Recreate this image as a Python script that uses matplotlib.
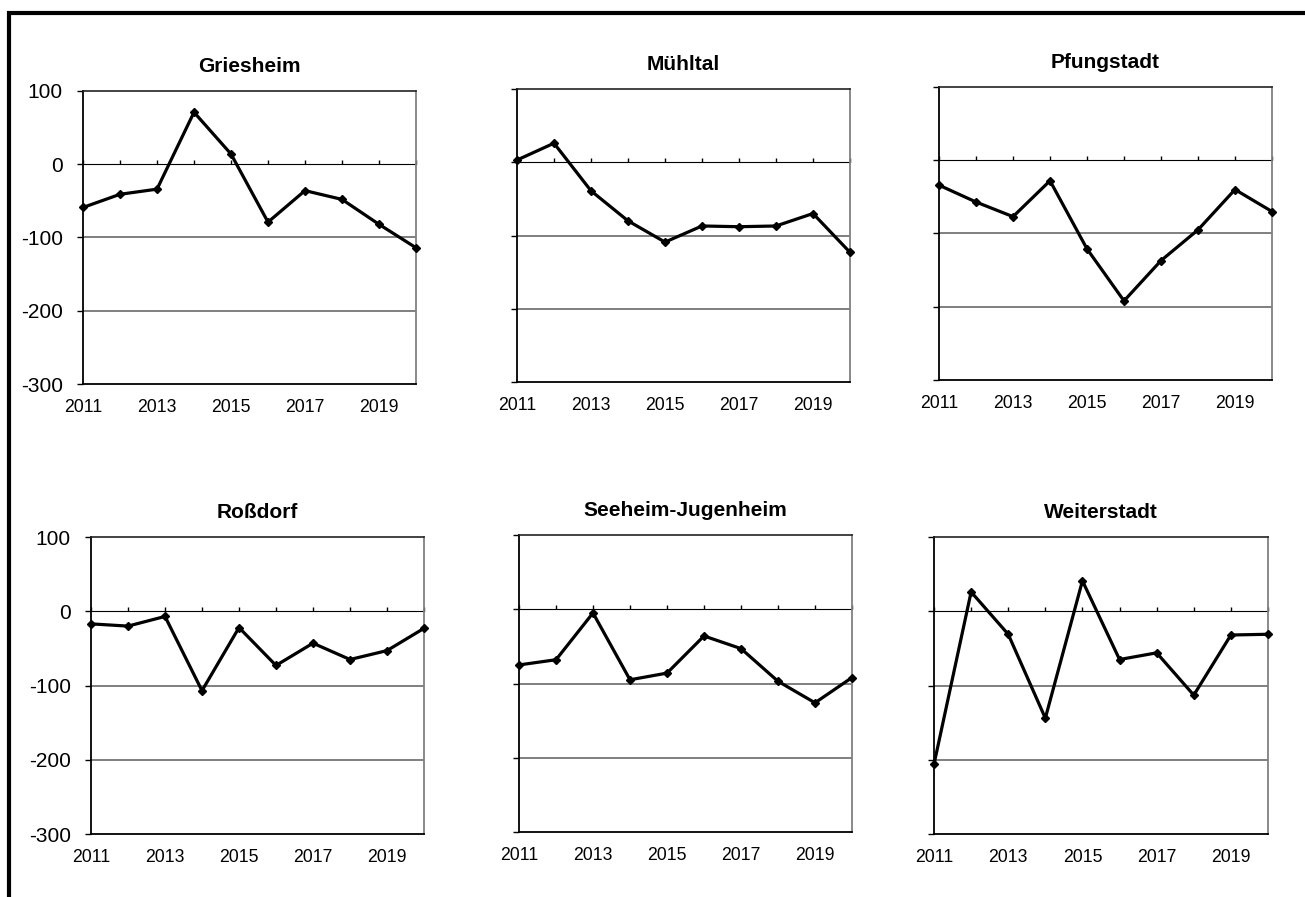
import matplotlib
matplotlib.use("Agg")
import matplotlib.pyplot as plt
from matplotlib.patches import Rectangle

plt.rcParams['font.family'] = ['Liberation Sans', 'DejaVu Sans']

years = list(range(2011, 2021))
towns = ["Griesheim", "Mühltal", "Pfungstadt", "Roßdorf", "Seeheim-Jugenheim", "Weiterstadt"]
griesheim = [-59, -41, -34, 71, 14, -79, -36, -48, -82, -114]
muehltal = [3, 26, -39, -80, -109, -87, -88, -87, -70, -123]
pfungstadt = [-34, -57, -77, -28, -121, -192, -137, -95, -40, -70]
rossdorf = [-17, -20, -7, -107, -22, -73, -43, -65, -53, -23]
seeheim = [-75, -68, -5, -95, -86, -36, -53, -97, -126, -92]
weiterstadt = [-206, 26, -31, -144, 41, -65, -56, -113, -32, -31]
series = [griesheim, muehltal, pfungstadt, rossdorf, seeheim, weiterstadt]

yticks = [100, 0, -100, -200, -300]
xlabel_years = [2011, 2013, 2015, 2017, 2019]

W, H = 1305, 897
fig = plt.figure(figsize=(W / 100, H / 100), dpi=100)
fig.patch.set_facecolor('white')

# axes boxes in pixels: left, right, top, bottom
boxes = [
    (83, 416, 91, 384),
    (517, 850, 89, 382),
    (939, 1272, 87, 380),
    (91, 424, 537, 834),
    (519, 852, 535, 832),
    (934, 1268, 537, 834),
]

for i, (name, vals, (l, r, t, b)) in enumerate(zip(towns, series, boxes)):
    ax = fig.add_axes([l / W, 1 - b / H, (r - l) / W, (b - t) / H])
    ymin, ymax = -300, 100
    ax.set_xlim(years[0], years[-1])
    ax.set_ylim(ymin, ymax)
    ax.plot(years, vals, color='black', lw=2.3, marker='D', markersize=4.5,
            zorder=5, clip_on=False)
    ax.set_yticks(yticks)
    for yv in [-100, -200]:
        ax.axhline(yv, color='#6a6a6a', lw=1.2, zorder=1)
    if i % 3 == 0:
        ax.set_yticklabels([str(v) for v in yticks], fontsize=15)
    else:
        ax.set_yticklabels([])
    ax.tick_params(axis='y', direction='out', length=4, width=1, pad=10.5)
    ax.set_xticks(xlabel_years)
    ax.set_xticklabels([str(v) for v in xlabel_years], fontsize=12.7)
    ax.tick_params(axis='x', length=0, pad=11)
    # zero line with year ticks
    loc = (0 - ymin) / (ymax - ymin)
    sec = ax.secondary_xaxis(loc)
    sec.set_xticks(years)
    sec.set_xticklabels([])
    sec.tick_params(direction='out', length=3, width=1, color='black')
    sec.spines['bottom'].set_color('black')
    sec.spines['bottom'].set_linewidth(1.2)
    ax.spines['left'].set_color('black')
    ax.spines['left'].set_linewidth(1.3)
    ax.spines['bottom'].set_color('black')
    ax.spines['bottom'].set_linewidth(1.3)
    ax.spines['top'].set_color('#222222')
    ax.spines['top'].set_linewidth(1.2)
    ax.spines['right'].set_color('#808080')
    ax.spines['right'].set_linewidth(1.3)
    ax.set_title(name, fontsize=15, fontweight='bold', pad=14)

# outer frame (only top and left visible)
frame = Rectangle((8.5 / W, -0.2), 1.3, 1.2 - 12.5 / H + 0.0, transform=fig.transFigure,
                  fill=False, edgecolor='black', lw=3, clip_on=False)
fig.patches.append(frame)

fig.savefig('out.png', dpi=100)
